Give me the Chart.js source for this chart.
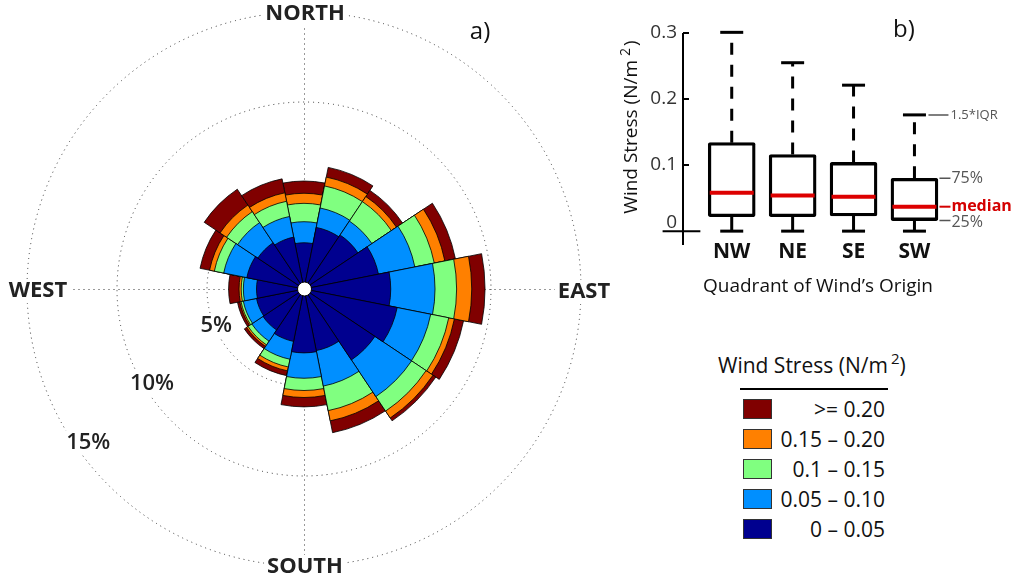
<!DOCTYPE html>
<html>
<head>
<meta charset="utf-8">
<title>Wind rose and wind stress by quadrant</title>
<script src="https://cdn.jsdelivr.net/npm/chart.js@4.4.1/dist/chart.umd.min.js"></script>
<style>
  html, body { margin:0; padding:0; background:#fff; }
  body { width:1016px; height:581px; position:relative; overflow:hidden; font-family:'Open Sans', sans-serif; color:#111; }
  #rose { position:absolute; left:0; top:0; }
  #box { position:absolute; left:600px; top:0; }
  .lg-title { position:absolute; left:718px; top:352px; font-size:21px; line-height:26px; white-space:nowrap; }
  .lg-title sup { font-size:15px; vertical-align:9px; line-height:0; margin-left:3px; }
  .lg-rule { position:absolute; left:740px; top:388px; width:148px; height:2px; background:#000; }
  .lg-sw { position:absolute; left:743px; width:27px; height:18px; border:1px solid #333; }
  .lg-tx { position:absolute; left:775px; width:110px; text-align:right; font-size:21px; line-height:20px; white-space:nowrap; }
</style>
</head>
<body>
<canvas id="rose" width="640" height="581"></canvas>
<canvas id="box" width="416" height="310"></canvas>
<div id="legend"></div>
<script>
/* ---------- data ---------- */
// wind rose: frequency (%) per direction, one array per wind-stress class
const directions = ['N','NNE','NE','ENE','E','ESE','SE','SSE','S','SSW','SW','WSW','W','WNW','NW','NNW'];
const bandLabels = ['0 – 0.05','0.05 – 0.10','0.1 – 0.15','0.15 – 0.20','>= 0.20'];
const bandColors = ['#00008f','#008fff','#80ff80','#ff8000','#800000'];
const stress0to005   = [2.18,3.10,3.22,3.83,4.43,4.89,4.35,3.10,3.16,2.58,2.35,2.30,2.25,2.85,2.70,2.55];
const stress005to010 = [1.17,1.10,0.93,2.06,2.46,1.90,2.45,2.01,1.41,1.01,0.75,0.75,0.73,1.31,1.35,1.17];
const stress010to015 = [1.02,1.25,1.30,1.10,1.20,1.02,0.97,1.39,0.68,0.44,0.25,0.13,0.12,0.53,0.73,0.86];
const stress015to020 = [0.56,0.50,0.34,0.60,0.84,0.32,0.46,0.58,0.39,0.22,0.10,0.07,0.12,0.27,0.44,0.48];
const stressOver020  = [0.68,0.55,0.41,0.60,0.74,0.52,0.19,0.67,0.52,0.27,0.15,0.13,0.58,0.54,1.06,0.79];
const radialTicks = [5,10,15];
const radialTickLabels = ['5%','10%','15%'];
const cardinalLabels = ['NORTH','EAST','SOUTH','WEST'];

// box plot of wind stress (N/m^2) by quadrant of origin
const quadrants = ['NW','NE','SE','SW'];
const boxMin    = [0,0,0,0];
const boxQ1     = [0.022,0.022,0.023,0.016];
const boxMedian = [0.058,0.054,0.052,0.037];
const boxQ3     = [0.134,0.116,0.104,0.080];
const boxMax    = [0.301,0.255,0.221,0.176];
const yTicks = [0,0.1,0.2,0.3];
const yTickLabels = ['0','0.1','0.2','0.3'];

const FONT = "'Open Sans', sans-serif";

/* ---------- wind rose ---------- */
const bands = [stress0to005, stress005to010, stress010to015, stress015to020, stressOver020];
let running = directions.map(()=>0);
const cumulative = bands.map(b => (running = running.map((v,i)=>v+b[i])));

function labelWithBg(ctx, text, x, y){
  const w = ctx.measureText(text).width;
  const h = parseInt(ctx.font.match(/(\d+)px/)[1],10);
  ctx.fillStyle = '#fff';
  ctx.fillRect(x-w/2-3, y-h/2-1, w+6, h+2);
  ctx.fillStyle = '#222';
  ctx.fillText(text, x, y);
}

const roseDeco = {
  id:'roseDeco',
  beforeDatasetsDraw(chart){
    const s = chart.scales.r, ctx = chart.ctx;
    const R = s.getDistanceFromCenterForValue(radialTicks[radialTicks.length-1]);
    const cx = s.xCenter + 0.5, cy = s.yCenter + 0.5;
    ctx.save();
    ctx.strokeStyle = '#333'; ctx.lineWidth = 1; ctx.setLineDash([1,4]);
    [0,1,2,3].forEach(k=>{
      const t = k*Math.PI/2 - Math.PI/2;
      ctx.beginPath(); ctx.moveTo(cx,cy); ctx.lineTo(cx+R*Math.cos(t), cy+R*Math.sin(t)); ctx.stroke();
    });
    ctx.restore();
  },
  afterDatasetsDraw(chart){
    const s = chart.scales.r, ctx = chart.ctx;
    const cx = s.xCenter, cy = s.yCenter;
    const R = s.getDistanceFromCenterForValue(radialTicks[radialTicks.length-1]);
    ctx.save();
    // hole in the middle
    ctx.beginPath(); ctx.arc(cx+0.5, cy, s.getDistanceFromCenterForValue(0), 0, Math.PI*2);
    ctx.fillStyle = '#fff'; ctx.fill(); ctx.strokeStyle = '#000'; ctx.lineWidth = 1; ctx.stroke();
    ctx.textAlign = 'center'; ctx.textBaseline = 'middle';
    // compass labels
    ctx.font = 'bold 22px ' + FONT;
    labelWithBg(ctx, cardinalLabels[0], cx+1, cy-R+2);
    labelWithBg(ctx, cardinalLabels[1], cx+R+3, cy+3);
    labelWithBg(ctx, cardinalLabels[2], cx+1, cy+R+1);
    labelWithBg(ctx, cardinalLabels[3], cx-R+11, cy+2);
    // percentage labels, down the lower-left
    const ang = [157.4, 148.1, 144.5], inset = [2, 8, 12];
    ctx.font = '600 22px ' + FONT;
    radialTicks.forEach((v,i)=>{
      const d = s.getDistanceFromCenterForValue(v) - inset[i];
      const t = ang[i]*Math.PI/180;
      labelWithBg(ctx, radialTickLabels[i], cx + d*Math.cos(t), cy + d*Math.sin(t));
    });
    ctx.font = '24px ' + FONT; ctx.fillStyle = '#111';
    ctx.fillText('a)', 480, 32);
    ctx.restore();
  }
};

new Chart(document.getElementById('rose'), {
  type:'polarArea',
  data:{
    labels: directions,
    datasets: cumulative.map((d,k)=>({
      label: bandLabels[k], data: d,
      backgroundColor: bandColors[k], borderColor:'#000', borderWidth:0.8
    }))
  },
  options:{
    responsive:false, animation:false,
    layout:{padding:{left:27, top:12, right:59, bottom:15}},
    plugins:{legend:{display:false}, tooltip:{enabled:false}},
    scales:{r:{
      min:-7/18, max:15, startAngle:-11.25,
      ticks:{display:false},
      afterBuildTicks: s => { s.ticks = radialTicks.map(v=>({value:v})); },
      grid:{color:'#333', lineWidth:1, circular:true},
      border:{dash:[1,4]},
      angleLines:{display:false},
      pointLabels:{display:false}
    }}
  },
  plugins:[roseDeco]
});

/* ---------- box plot ---------- */
const boxDeco = {
  id:'boxDeco',
  afterDraw(chart){
    const ctx = chart.ctx;
    const x = chart.scales.x, y = chart.scales.y;
    const ax = x.getPixelForValue(x.min);
    const y0 = y.getPixelForValue(0);
    ctx.save();
    ctx.setLineDash([]);
    ctx.strokeStyle = '#000'; ctx.lineWidth = 2;
    // y axis
    ctx.beginPath();
    ctx.moveTo(ax, y.getPixelForValue(yTicks[yTicks.length-1]));
    ctx.lineTo(ax, y.getPixelForValue(y.min));
    ctx.stroke();
    // short x axis through zero
    ctx.beginPath();
    ctx.moveTo(x.getPixelForValue(-0.135), y0); ctx.lineTo(x.getPixelForValue(0.485), y0);
    ctx.stroke();
    // inward ticks
    ctx.beginPath();
    yTicks.forEach(v=>{ if(v>0){ const p=y.getPixelForValue(v); ctx.moveTo(ax, p); ctx.lineTo(ax+6, p); } });
    ctx.stroke();
    // tick labels
    ctx.fillStyle = '#333'; ctx.font = '19px ' + FONT;
    ctx.textAlign = 'right'; ctx.textBaseline = 'middle';
    yTicks.forEach((v,i)=>{ ctx.fillText(yTickLabels[i], ax-6, y.getPixelForValue(v) - (v===0 ? 9 : 0)); });
    // y title with superscript
    ctx.save();
    ctx.translate(32, 127); ctx.rotate(-Math.PI/2);
    ctx.fillStyle = '#111'; ctx.textAlign = 'left';
    const t1 = 'Wind Stress (N/m', t3 = ')';
    ctx.font = '14px ' + FONT; const w2 = ctx.measureText('2').width;
    ctx.font = '19px ' + FONT;
    const w1 = ctx.measureText(t1).width, w3 = ctx.measureText(t3).width;
    let sx = -(w1 + 4 + w2 + 2 + w3)/2;
    ctx.fillText(t1, sx, 0); sx += w1 + 4;
    ctx.font = '14px ' + FONT; ctx.fillText('2', sx, -6); sx += w2 + 2;
    ctx.font = '19px ' + FONT; ctx.fillText(t3, sx, 0);
    ctx.restore();
    // category labels and x title
    ctx.textAlign = 'center'; ctx.fillStyle = '#111';
    ctx.font = 'bold 21px ' + FONT;
    quadrants.forEach((q,i)=> ctx.fillText(q, x.getPixelForValue(i+1), y0 + 21));
    ctx.font = '19px ' + FONT;
    ctx.fillText("Quadrant of Wind\u2019s Origin", 218, 287);
    // notes beside the last box
    const k = quadrants.length - 1, bx = x.getPixelForValue(k+1);
    ctx.lineWidth = 1.5; ctx.strokeStyle = '#555';
    ctx.beginPath();
    ctx.moveTo(bx+14, y.getPixelForValue(boxMax[k])); ctx.lineTo(bx+34, y.getPixelForValue(boxMax[k]));
    [boxQ3[k], boxQ1[k]].forEach(v=>{ const p=y.getPixelForValue(v); ctx.moveTo(bx+25, p); ctx.lineTo(bx+36, p); });
    ctx.stroke();
    ctx.strokeStyle = '#d40000'; ctx.lineWidth = 2;
    ctx.beginPath(); ctx.moveTo(bx+25, y.getPixelForValue(boxMedian[k])); ctx.lineTo(bx+36, y.getPixelForValue(boxMedian[k])); ctx.stroke();
    ctx.textAlign = 'left'; ctx.fillStyle = '#555';
    ctx.font = '13px ' + FONT; ctx.fillText('1.5*IQR', bx+36, y.getPixelForValue(boxMax[k]));
    ctx.font = '16px ' + FONT;
    ctx.fillText('75%', bx+37, y.getPixelForValue(boxQ3[k]));
    ctx.fillText('25%', bx+37, y.getPixelForValue(boxQ1[k]) + 2);
    ctx.fillStyle = '#d40000'; ctx.font = 'bold 16px ' + FONT;
    ctx.fillText('median', bx+37, y.getPixelForValue(boxMedian[k]));
    // panel tag
    ctx.fillStyle = '#111'; ctx.textAlign = 'center'; ctx.font = '24px ' + FONT;
    ctx.fillText('b)', 304, 30);
    ctx.restore();
  }
};

const pos = quadrants.map((q,i)=>i+1);
new Chart(document.getElementById('box'), {
  type:'bar',
  data:{
    datasets:[
      { type:'scatter', label:'median', order:1, clip:false,
        data: pos.map((p,i)=>({x:p, y:boxMedian[i]})),
        pointStyle:'line', pointRadius:22, pointBorderWidth:4, pointBorderColor:'#dd0000', borderColor:'#dd0000' },
      { type:'bar', label:'IQR', order:2, clip:false,
        data: pos.map((p,i)=>({x:p, y:[boxQ1[i], boxQ3[i]]})),
        backgroundColor:'#fff', borderColor:'#000', borderWidth:3.3, borderSkipped:false, borderRadius:2, barThickness:47 },
      { type:'line', label:'upper whisker', order:3, clip:false,
        data: pos.flatMap((p,i)=>[{x:p, y:boxQ3[i]}, {x:p, y:boxMax[i]}, {x:p+0.5, y:null}]),
        borderColor:'#000', borderWidth:3, borderDash:[12,10], pointRadius:0, spanGaps:false },
      { type:'line', label:'lower whisker', order:3, clip:false,
        data: pos.flatMap((p,i)=>[{x:p, y:boxQ1[i]}, {x:p, y:boxMin[i]}, {x:p+0.5, y:null}]),
        borderColor:'#000', borderWidth:3, pointRadius:0, spanGaps:false },
      { type:'scatter', label:'caps', order:4, clip:false,
        data: pos.flatMap((p,i)=>[{x:p, y:boxMax[i]}, {x:p, y:boxMin[i]}]),
        pointStyle:'line', pointRadius:11.5, pointBorderWidth:3, pointBorderColor:'#000', borderColor:'#000' }
    ]
  },
  options:{
    responsive:false, animation:false,
    layout:{padding:{left:83, top:33, right:65, bottom:65}},
    plugins:{legend:{display:false}, tooltip:{enabled:false}},
    scales:{
      x:{type:'linear', min:0.2, max:4.6, offset:false, display:false},
      y:{type:'linear', min:-0.021, max:0.3, display:false}
    }
  },
  plugins:[boxDeco]
});

/* ---------- legend ---------- */
const lg = document.getElementById('legend');
lg.innerHTML = '<div class="lg-title">Wind Stress (N/m<sup>2</sup>)</div><div class="lg-rule"></div>';
bandLabels.slice().reverse().forEach((t,i)=>{
  const top = 399 + i*30;
  const c = bandColors[bandColors.length-1-i];
  lg.insertAdjacentHTML('beforeend',
    `<div class="lg-sw" style="top:${top}px;background:${c}"></div><div class="lg-tx" style="top:${top}px">${t.replace('>','&gt;')}</div>`);
});
</script>
</body>
</html>
